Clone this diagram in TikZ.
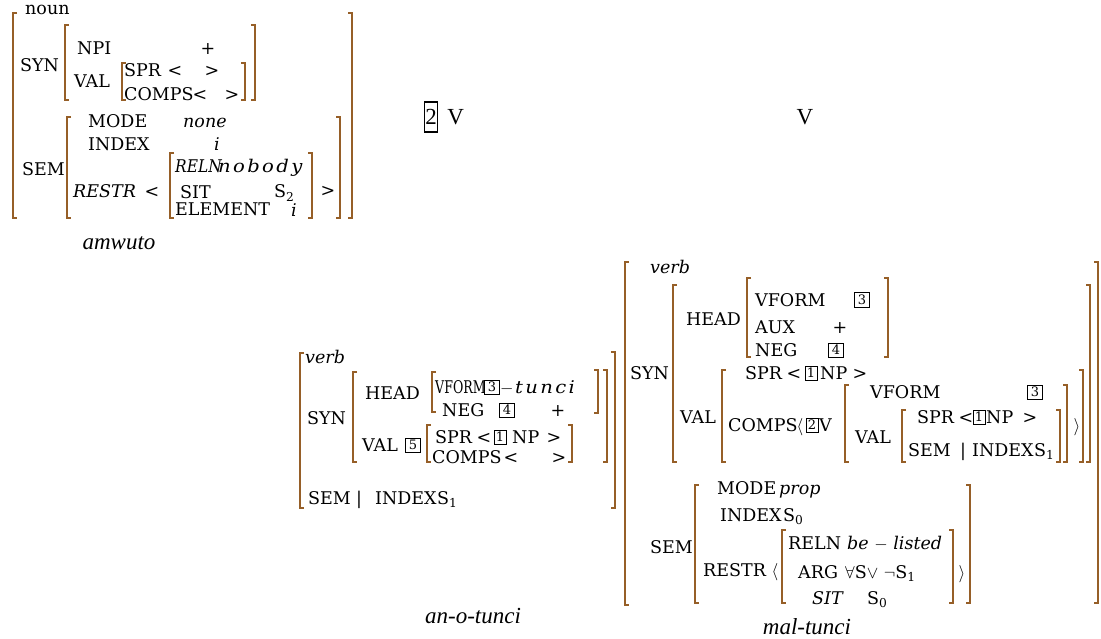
\documentclass[tikz,border=0pt]{standalone}
\usepackage{fontspec}
\setmainfont{DejaVu Serif}
\newfontfamily\labelfont{Liberation Serif}
\usepackage{tikz}
\usetikzlibrary{positioning}
\definecolor{brkcol}{RGB}{150,95,40}

\begin{document}
\begin{tikzpicture}[
        x=1pt, y=-1pt,
        ft/.style={anchor=west, inner sep=0pt, text height=12pt, text depth=0pt, font=\fontsize{17.5}{20}\selectfont},
        it/.style={ft, font=\fontsize{17.5}{20}\selectfont\itshape},
        wide/.style={it, font=\fontsize{17.5}{20}\selectfont\itshape\addfontfeatures{LetterSpace=12}},
        sym/.style={ft, anchor=center},
        tag/.style={draw, line width=1pt, inner sep=0pt, minimum width=15pt, minimum height=14pt, font=\fontsize{13}{13}\selectfont},
        bigtag/.style={draw, line width=1.5pt, inner sep=0pt, minimum width=13pt, minimum height=30pt, font=\labelfont\fontsize{23}{26}\selectfont},
        lbl/.style={inner sep=0pt, font=\labelfont\fontsize{23}{26}\selectfont\itshape},
        cat/.style={inner sep=0pt, font=\labelfont\fontsize{23}{26}\selectfont},
        brk/.style={draw=brkcol, line width=1.3pt}
    ]
        \useasboundingbox (0,0) rectangle (1101,639);

        % Colchetes
        \foreach \x/\t/\b in {13/13/218, 65/25/100, 122/63/100, 67/117/218, 170/153/218,
                300/353/508, 353/372/462, 432/372/412, 427/425/462,
                625/262/605, 673/285/462, 747/278/357, 722/370/462, 845/385/462,
                902/410/462, 695/485/603, 782/530/603}
            \draw[brk] (\x+4,\t) -| (\x,\b) -- ++(4,0);
        \foreach \x/\t/\b in {352/13/218, 255/25/100, 245/63/100, 340/117/218, 312/153/218,
                615/352/508, 607/370/462, 598/370/413, 572/425/462,
                1098/262/603, 1090/285/462, 888/278/357, 1083/370/462, 1067/385/462,
                1060/410/462, 970/485/603, 953/530/603}
            \draw[brk] (\x-4,\t) -| (\x,\b) -- ++(-4,0);

        % amwuto
        \node[ft] (am-noun) at (25,9) {noun};
        \node[ft] (am-syn) at (20,66) {SYN};
        \node[ft] (am-npi) at (77,49) {NPI};
        \node[sym] (am-plus) at (208,49) {+};
        \node[ft] (am-val) at (74,82) {VAL};
        \node[ft] (am-spr) at (124,71) {SPR};
        \node[sym] (am-spr-l) at (175,71) {<};
        \node[sym] (am-spr-r) at (212,71) {>};
        \node[ft] (am-comps) at (124,95) {COMPS};
        \node[sym] (am-comps-l) at (200,95) {<};
        \node[sym] (am-comps-r) at (232,95) {>};
        \node[ft] (am-mode) at (88,122) {MODE};
        \node[it] (am-none) at (183,122) {none};
        \node[ft] (am-index) at (88,145) {INDEX};
        \node[it, anchor=center] (am-i1) at (217,145) {i};
        \node[ft] (am-sem) at (22,170) {SEM};
        \node[it] (am-restr) at (73,192) {RESTR};
        \node[sym] (am-restr-l) at (152,192) {<};
        \node[it] (am-reln) at (175,167) {\scalebox{0.88}[1]{RELN}};
        \node[wide] (am-nobody) at (218,167) {\scalebox{1.12}[1]{nobody}};
        \node[ft] (am-sit) at (180,193) {SIT};
        \node[ft] (am-s2) at (274,192) {S\textsubscript{2}};
        \node[ft] (am-elem) at (175,210) {ELEMENT};
        \node[it, anchor=center] (am-i2) at (294,211) {i};
        \node[sym] (am-restr-r) at (328,191) {>};
        \node[lbl] (am-word) at (119,243) {amwuto};

        % 2 V e V
        \node[bigtag] (top-tag) at (431,117) {2};
        \node[cat, right=9pt of top-tag] (top-v1) {V};
        \node[cat] (top-v2) at (805,117) {V};

        % an-o-tunci
        \node[it] (an-verb) at (305,357) {verb};
        \node[ft] (an-syn) at (307,418) {SYN};
        \node[ft] (an-head) at (365,393) {HEAD};
        \node[ft] (an-vform) at (435,387) {\scalebox{0.72}[1]{VFORM}};
        \node[tag] (an-t3) at (492,387) {3};
        \node[ft] (an-minus) at (500,387) {$-$};
        \node[wide] (an-tunci) at (515,387) {\scalebox{1.12}[1]{tunci}};
        \node[ft] (an-neg) at (442,410) {NEG};
        \node[tag] (an-t4) at (507,410) {4};
        \node[sym] (an-plus) at (558,410) {+};
        \node[ft] (an-val) at (362,445) {VAL};
        \node[tag] (an-t5) at (413,445) {5};
        \node[ft] (an-spr) at (435,437) {SPR};
        \node[sym] (an-spr-l) at (484,437) {<};
        \node[tag, minimum width=12pt] (an-t1) at (500,437) {1};
        \node[ft] (an-np) at (512,437) {NP};
        \node[sym] (an-spr-r) at (554,437) {>};
        \node[ft] (an-comps) at (432,457) {COMPS};
        \node[sym] (an-comps-l) at (511,457) {<};
        \node[sym] (an-comps-r) at (559,457) {>};
        \node[ft] (an-sem) at (308,498) {SEM};
        \node[sym] (an-bar) at (359,498) {|};
        \node[ft] (an-index) at (375,498) {INDEX};
        \node[ft] (an-s1) at (437,498) {S\textsubscript{1}};
        \node[lbl] (an-word) at (473,616) {an-o-tunci};

        % mal-tunci
        \node[it] (ma-verb) at (650,267) {verb};
        \node[ft] (ma-syn) at (630,373) {SYN};
        \node[ft] (ma-head) at (686,320) {HEAD};
        \node[ft] (ma-vform) at (755,300) {VFORM};
        \node[tag] (ma-t3a) at (862,300) {3};
        \node[ft] (ma-aux) at (755,327) {AUX};
        \node[sym] (ma-plus) at (840,327) {+};
        \node[ft] (ma-neg) at (755,350) {NEG};
        \node[tag] (ma-t4) at (836,350) {4};
        \node[ft] (ma-spr) at (745,373) {SPR};
        \node[sym] (ma-spr-l) at (794,373) {<};
        \node[tag, minimum width=12pt] (ma-t1a) at (811,373) {1};
        \node[ft] (ma-np1) at (820,373) {NP};
        \node[sym] (ma-spr-r) at (860,373) {>};
        \node[ft] (ma-val) at (680,417) {VAL};
        \node[ft] (ma-comps) at (728,425) {COMPS};
        \node[sym] (ma-comps-l) at (800,425) {$\langle$};
        \node[tag, minimum width=12pt] (ma-t2) at (812,425) {2};
        \node[ft] (ma-v) at (819,425) {V};
        \node[ft] (ma-vform2) at (870,392) {VFORM};
        \node[tag] (ma-t3b) at (1035,392) {3};
        \node[ft] (ma-val2) at (855,437) {VAL};
        \node[ft] (ma-spr2) at (917,417) {SPR};
        \node[sym] (ma-spr2-l) at (966,417) {<};
        \node[tag, minimum width=12pt] (ma-t1b) at (979,417) {1};
        \node[ft] (ma-np2) at (986,417) {NP};
        \node[sym] (ma-spr2-r) at (1030,417) {>};
        \node[ft] (ma-sem2) at (908,450) {SEM};
        \node[sym] (ma-bar) at (963,450) {|};
        \node[ft] (ma-index2) at (972,450) {INDEX};
        \node[ft] (ma-s1) at (1034,450) {S\textsubscript{1}};
        \node[sym] (ma-comps-r) at (1077,425) {$\rangle$};
        \node[ft] (ma-sem) at (650,547) {SEM};
        \node[ft] (ma-mode) at (717,488) {MODE};
        \node[it] (ma-prop) at (779,488) {prop};
        \node[ft] (ma-index) at (720,515) {INDEX};
        \node[ft] (ma-s0a) at (783,515) {S\textsubscript{0}};
        \node[ft] (ma-restr) at (703,570) {RESTR};
        \node[sym] (ma-restr-l) at (775,570) {$\langle$};
        \node[ft] (ma-reln) at (788,543) {RELN};
        \node[it] (ma-listed) at (847,543) {be $-$ listed};
        \node[ft] (ma-arg) at (798,572) {ARG};
        \node[ft] (ma-forall) at (845,572) {$\forall$S$\vee$ $\neg$S\textsubscript{1}};
        \node[it] (ma-sit) at (812,598) {SIT};
        \node[ft] (ma-s0b) at (867,598) {S\textsubscript{0}};
        \node[sym] (ma-restr-r) at (962,572) {$\rangle$};
        \node[lbl] (ma-word) at (807,627) {mal-tunci};

    \end{tikzpicture}
\end{document}
